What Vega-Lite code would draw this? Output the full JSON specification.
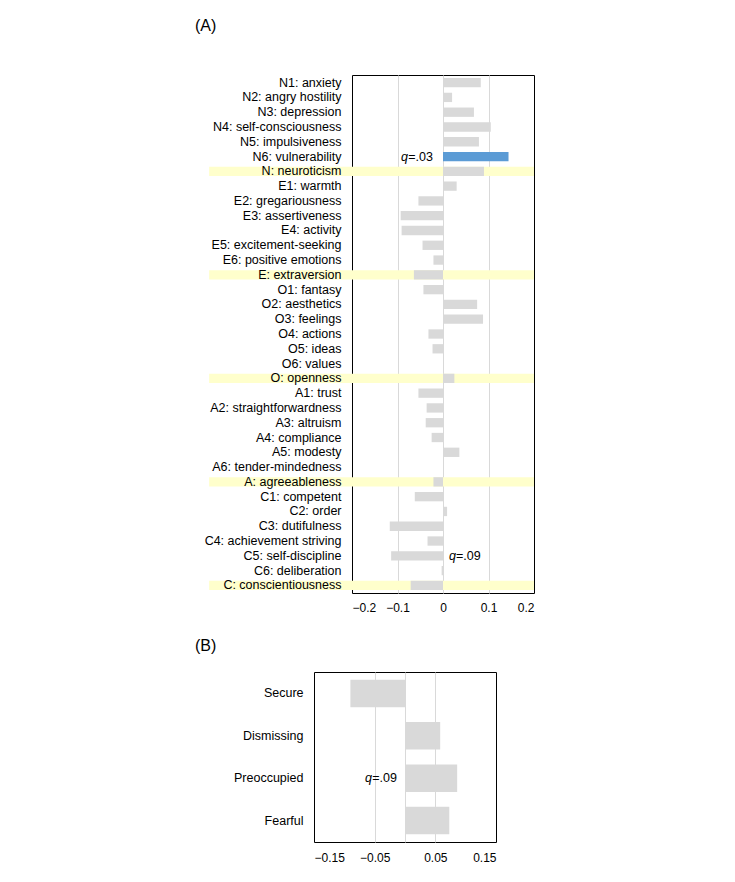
{
  "$schema": "https://vega.github.io/schema/vega-lite/v6.json",
  "padding": {"left": 187, "top": 17, "right": 10, "bottom": 5},
  "spacing": 23,
  "config": {
    "font": "Liberation Sans",
    "view": {"stroke": "black", "strokeWidth": 1},
    "axis": {"labelFont": "Liberation Sans", "labelFontSize": 12, "labelColor": "black", "ticks": false, "tickSize": 0, "domain": false, "title": null},
    "title": {"font": "Liberation Sans", "fontSize": 16, "fontWeight": "normal", "color": "black", "anchor": "start", "frame": "bounds"}
  },
  "vconcat": [
    {"spacing": 0, "hconcat": [
    {"width": 1, "height": 1, "view": {"stroke": null}, "data": {"values": [{}]}, "mark": {"type": "point", "opacity": 0}, "encoding": {}},
    {
      "title": {"text": "(A)", "offset": 41},
      "width": 182,
      "height": 518,
      "data": {"values": [
        {"trait": "N1: anxiety", "r": 0.083, "hl": false, "sig": "n"},
        {"trait": "N2: angry hostility", "r": 0.020, "hl": false, "sig": "n"},
        {"trait": "N3: depression", "r": 0.068, "hl": false, "sig": "n"},
        {"trait": "N4: self-consciousness", "r": 0.105, "hl": false, "sig": "n"},
        {"trait": "N5: impulsiveness", "r": 0.079, "hl": false, "sig": "n"},
        {"trait": "N6: vulnerability", "r": 0.144, "hl": false, "sig": "y", "ann": "=.03", "side": "L"},
        {"trait": "N: neuroticism", "r": 0.090, "hl": true, "sig": "n"},
        {"trait": "E1: warmth", "r": 0.030, "hl": false, "sig": "n"},
        {"trait": "E2: gregariousness", "r": -0.054, "hl": false, "sig": "n"},
        {"trait": "E3: assertiveness", "r": -0.093, "hl": false, "sig": "n"},
        {"trait": "E4: activity", "r": -0.091, "hl": false, "sig": "n"},
        {"trait": "E5: excitement-seeking", "r": -0.045, "hl": false, "sig": "n"},
        {"trait": "E6: positive emotions", "r": -0.021, "hl": false, "sig": "n"},
        {"trait": "E: extraversion", "r": -0.064, "hl": true, "sig": "n"},
        {"trait": "O1: fantasy", "r": -0.043, "hl": false, "sig": "n"},
        {"trait": "O2: aesthetics", "r": 0.075, "hl": false, "sig": "n"},
        {"trait": "O3: feelings", "r": 0.088, "hl": false, "sig": "n"},
        {"trait": "O4: actions", "r": -0.032, "hl": false, "sig": "n"},
        {"trait": "O5: ideas", "r": -0.023, "hl": false, "sig": "n"},
        {"trait": "O6: values", "r": 0, "hl": false, "sig": "n"},
        {"trait": "O: openness", "r": 0.025, "hl": true, "sig": "n"},
        {"trait": "A1: trust", "r": -0.054, "hl": false, "sig": "n"},
        {"trait": "A2: straightforwardness", "r": -0.036, "hl": false, "sig": "n"},
        {"trait": "A3: altruism", "r": -0.038, "hl": false, "sig": "n"},
        {"trait": "A4: compliance", "r": -0.025, "hl": false, "sig": "n"},
        {"trait": "A5: modesty", "r": 0.036, "hl": false, "sig": "n"},
        {"trait": "A6: tender-mindedness", "r": 0, "hl": false, "sig": "n"},
        {"trait": "A: agreeableness", "r": -0.021, "hl": true, "sig": "n"},
        {"trait": "C1: competent", "r": -0.062, "hl": false, "sig": "n"},
        {"trait": "C2: order", "r": 0.009, "hl": false, "sig": "n"},
        {"trait": "C3: dutifulness", "r": -0.117, "hl": false, "sig": "n"},
        {"trait": "C4: achievement striving", "r": -0.034, "hl": false, "sig": "n"},
        {"trait": "C5: self-discipline", "r": -0.114, "hl": false, "sig": "n", "ann": "=.09", "side": "R"},
        {"trait": "C6: deliberation", "r": -0.003, "hl": false, "sig": "n"},
        {"trait": "C: conscientiousness", "r": -0.071, "hl": true, "sig": "n"}
      ]},
      "encoding": {
        "y": {
          "field": "trait", "type": "nominal", "sort": null,
          "scale": {"paddingInner": 0.37, "paddingOuter": 0.2,
            "domain": ["N1: anxiety","N2: angry hostility","N3: depression","N4: self-consciousness","N5: impulsiveness","N6: vulnerability","N: neuroticism","E1: warmth","E2: gregariousness","E3: assertiveness","E4: activity","E5: excitement-seeking","E6: positive emotions","E: extraversion","O1: fantasy","O2: aesthetics","O3: feelings","O4: actions","O5: ideas","O6: values","O: openness","A1: trust","A2: straightforwardness","A3: altruism","A4: compliance","A5: modesty","A6: tender-mindedness","A: agreeableness","C1: competent","C2: order","C3: dutifulness","C4: achievement striving","C5: self-discipline","C6: deliberation","C: conscientiousness"]},
          "axis": {"labelPadding": 11, "zindex": 1, "labelFontSize": 12.5, "minExtent": 157}
        }
      },
      "layer": [
        {
          "transform": [{"filter": "datum.hl"}],
          "mark": {"type": "bar", "color": "#FFFFCC"},
          "encoding": {
            "x": {"datum": -0.514, "type": "quantitative",
              "scale": {"domain": [-0.2, 0.2], "nice": false, "zero": false},
              "axis": {"values": [-0.2, -0.1, 0, 0.1, 0.2], "labelPadding": 9, "grid": true, "gridColor": {"condition": {"test": "abs(datum.value) > 0.19", "value": "transparent"}, "value": "#D9D9D9"}, "labelExpr": "datum.value === 0 ? '0' : format(datum.value, '.1f')"}},
            "x2": {"datum": 0.2}
          }
        },
        {
          "mark": {"type": "bar"},
          "encoding": {
            "x": {"field": "r", "type": "quantitative"},
            "x2": {"datum": 0},
            "color": {"field": "sig", "type": "nominal", "scale": {"domain": ["n", "y"], "range": ["#D9D9D9", "#5B9BD5"]}, "legend": null}
          }
        },
        {
          "transform": [{"filter": "datum.side === 'L'"}],
          "mark": {"type": "text", "align": "right", "dx": -10, "fontSize": 12.5, "color": "black"},
          "encoding": {"x": {"datum": 0}, "text": {"field": "ann"}}
        },
        {
          "transform": [{"filter": "datum.side === 'L'"}],
          "mark": {"type": "text", "align": "right", "dx": -35, "fontSize": 12.5, "fontStyle": "italic", "color": "black", "text": "q"},
          "encoding": {"x": {"datum": 0}}
        },
        {
          "transform": [{"filter": "datum.side === 'R'"}],
          "mark": {"type": "text", "align": "left", "dx": 13, "fontSize": 12.5, "color": "black"},
          "encoding": {"x": {"datum": 0}, "text": {"field": "ann"}}
        },
        {
          "transform": [{"filter": "datum.side === 'R'"}],
          "mark": {"type": "text", "align": "left", "dx": 6, "fontSize": 12.5, "fontStyle": "italic", "color": "black", "text": "q"},
          "encoding": {"x": {"datum": 0}}
        }
      ]
    }
    ]},
    {"spacing": 0, "hconcat": [
    {"width": 1, "height": 1, "view": {"stroke": null}, "data": {"values": [{}]}, "mark": {"type": "point", "opacity": 0}, "encoding": {}},
    {
      "title": {"text": "(B)", "offset": 18},
      "width": 182,
      "height": 170,
      "data": {"values": [
        {"style": "Secure", "r": -0.090},
        {"style": "Dismissing", "r": 0.058},
        {"style": "Preoccupied", "r": 0.086, "ann": "=.09"},
        {"style": "Fearful", "r": 0.073}
      ]},
      "encoding": {
        "y": {"field": "style", "type": "nominal", "sort": null,
          "scale": {"paddingInner": 0.35, "paddingOuter": 0.18},
          "axis": {"labelPadding": 11, "minExtent": 119, "zindex": 1, "labelFontSize": 12.5}}
      },
      "layer": [
        {
          "mark": {"type": "bar", "color": "#D9D9D9"},
          "encoding": {
            "x": {"field": "r", "type": "quantitative",
              "scale": {"domain": [-0.15, 0.15], "nice": false, "zero": false},
              "axis": {"values": [-0.15, -0.05, 0, 0.05, 0.15], "labelPadding": 10, "grid": true, "gridColor": {"condition": {"test": "abs(datum.value) > 0.14", "value": "transparent"}, "value": "#D9D9D9"}, "labelExpr": "datum.value === 0 ? '' : format(datum.value, '.2f')"}},
            "x2": {"datum": 0}
          }
        },
        {
          "transform": [{"filter": "isValid(datum.ann)"}],
          "mark": {"type": "text", "align": "right", "dx": -8, "fontSize": 12.5, "color": "black"},
          "encoding": {"x": {"datum": 0}, "text": {"field": "ann"}}
        },
        {
          "transform": [{"filter": "isValid(datum.ann)"}],
          "mark": {"type": "text", "align": "right", "dx": -33, "fontSize": 12.5, "fontStyle": "italic", "color": "black", "text": "q"},
          "encoding": {"x": {"datum": 0}}
        }
      ]
    }
    ]}
  ]
}
